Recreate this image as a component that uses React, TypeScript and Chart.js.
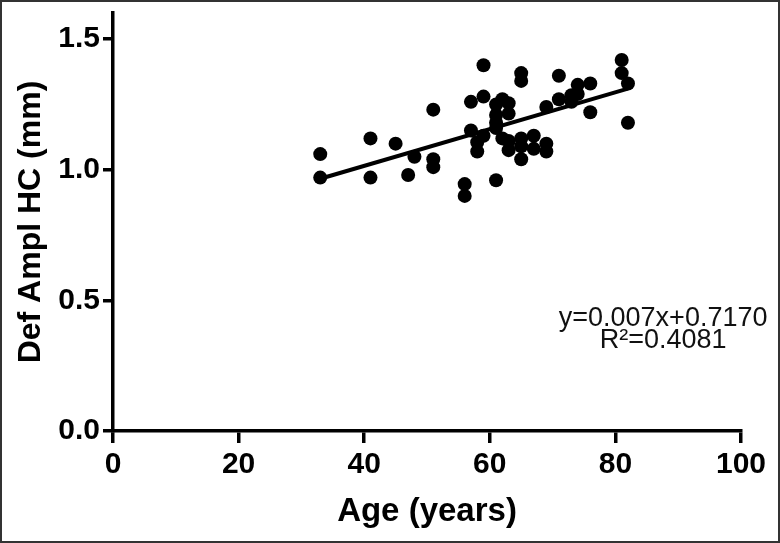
import React, { useEffect, useRef } from "react";
import { Chart, registerables } from "chart.js";

Chart.register(...registerables);

const ageYears = [33, 33, 41, 41, 45, 47, 48, 51, 51, 51, 56, 56, 57, 57, 58, 58, 59, 59, 59, 61, 61, 61, 61, 61, 62, 62, 63, 63, 63, 63, 65, 65, 65, 65, 65, 67, 67, 69, 69, 69, 71, 71, 73, 73, 74, 74, 76, 76, 81, 81, 82, 82];
const defAmplHC = [1.06, 0.97, 1.12, 0.97, 1.10, 0.98, 1.05, 1.23, 1.04, 1.01, 0.945, 0.90, 1.26, 1.15, 1.105, 1.07, 1.40, 1.28, 1.13, 1.25, 1.21, 1.18, 1.16, 0.96, 1.27, 1.12, 1.255, 1.215, 1.11, 1.075, 1.37, 1.34, 1.12, 1.09, 1.04, 1.13, 1.08, 1.24, 1.10, 1.07, 1.36, 1.27, 1.285, 1.26, 1.325, 1.29, 1.33, 1.22, 1.42, 1.37, 1.33, 1.18];
const xTicks = [0, 20, 40, 60, 80, 100];
const yTicks = [0, 0.5, 1.0, 1.5];
const equationLines = ["y=0.007x+0.7170", "R\u00B2=0.4081"];
const xTitle = "Age (years)";
const yTitle = "Def Ampl HC (mm)";

const FONT = "'Liberation Sans', Arial, Helvetica, sans-serif";

function fitLine(xs: number[], ys: number[]) {
  const n = xs.length;
  const mx = xs.reduce((a, b) => a + b, 0) / n;
  const my = ys.reduce((a, b) => a + b, 0) / n;
  let sxy = 0;
  let sxx = 0;
  for (let i = 0; i < n; i++) {
    sxy += (xs[i] - mx) * (ys[i] - my);
    sxx += (xs[i] - mx) * (xs[i] - mx);
  }
  const slope = sxy / sxx;
  return { slope, intercept: my - slope * mx };
}

export default function App() {
  const ref = useRef<HTMLCanvasElement | null>(null);

  useEffect(() => {
    document.body.style.margin = "0";
    const canvas = ref.current;
    if (!canvas) return;
    const points = ageYears.map((x, i) => ({ x, y: defAmplHC[i] }));
    const { slope, intercept } = fitLine(ageYears, defAmplHC);
    const minX = Math.min(...ageYears);
    const maxX = Math.max(...ageYears);
    const linePts = [
      { x: minX, y: slope * minX + intercept },
      { x: maxX, y: slope * maxX + intercept },
    ];

    const framePlugin = {
      id: "frame",
      beforeDraw(chart: any) {
        const c = chart.ctx;
        c.save();
        c.fillStyle = "#fff";
        c.fillRect(0, 0, chart.width, chart.height);
        c.restore();
      },
      afterDraw(chart: any) {
        const c = chart.ctx;
        c.save();
        c.strokeStyle = "#333";
        c.lineWidth = 2;
        c.strokeRect(1, 1, chart.width - 2, chart.height - 2);
        c.fillStyle = "#111";
        c.font = `27px ${FONT}`;
        c.textAlign = "center";
        c.textBaseline = "middle";
        const xs = chart.scales.x;
        const ys = chart.scales.y;
        const cx = xs.getPixelForValue(87.6);
        const cy = ys.getPixelForValue(0.43);
        c.fillText(equationLines[0], cx, cy);
        c.fillText(equationLines[1], cx, cy + 22);
        c.restore();
      },
    };

    const chart = new Chart(canvas, {
      type: "scatter",
      data: {
        datasets: [
          {
            type: "line",
            data: linePts,
            borderColor: "#000",
            borderWidth: 4,
            pointRadius: 0,
            fill: false,
          } as any,
          {
            data: points,
            backgroundColor: "#000",
            borderWidth: 0,
            pointRadius: 7,
            pointHoverRadius: 7,
          },
        ],
      },
      options: {
        animation: false,
        responsive: false,
        devicePixelRatio: 1,
        layout: { padding: { top: 13, right: 39, left: 0, bottom: 0 } },
        plugins: { legend: { display: false }, tooltip: { enabled: false } },
        scales: {
          x: {
            type: "linear",
            min: 0,
            max: 100,
            afterBuildTicks: (s: any) => {
              s.ticks = xTicks.map((v) => ({ value: v }));
            },
            afterFit: (s: any) => {
              s.height = 112;
              s.paddingLeft = 0;
              s.paddingRight = 0;
            },
            grid: {
              display: true,
              drawOnChartArea: false,
              drawTicks: true,
              tickLength: 12,
              color: "#000",
              lineWidth: 3.5,
            },
            border: { display: true, color: "#000", width: 3.5 },
            ticks: {
              color: "#000",
              font: { family: FONT, size: 30, weight: "bold" },
              padding: 4,
              maxRotation: 0,
              autoSkip: false,
            },
            title: {
              display: true,
              text: xTitle,
              color: "#000",
              font: { family: FONT, size: 33, weight: "bold" },
              padding: { top: 0, bottom: 11 },
            },
          },
          y: {
            type: "linear",
            min: 0,
            max: 1.6,
            afterBuildTicks: (s: any) => {
              s.ticks = yTicks.map((v) => ({ value: v }));
            },
            afterFit: (s: any) => {
              s.width = 113;
              s.paddingTop = 0;
              s.paddingBottom = 0;
            },
            grid: {
              display: true,
              drawOnChartArea: false,
              drawTicks: true,
              tickLength: 10,
              color: "#000",
              lineWidth: 3.5,
            },
            border: { display: true, color: "#000", width: 3.5 },
            ticks: {
              color: "#000",
              font: { family: FONT, size: 30, weight: "bold" },
              padding: 3,
              callback: (v: any) => Number(v).toFixed(1),
            },
            title: {
              display: true,
              text: yTitle,
              color: "#000",
              font: { family: FONT, size: 32, weight: "bold" },
              padding: { top: 12, bottom: 0 },
            },
          },
        },
      },
      plugins: [framePlugin],
    });
    return () => chart.destroy();
  }, []);

  return (
    <div style={{ width: 780, height: 543, position: "relative" }}>
      <canvas ref={ref} width={780} height={543} style={{ display: "block" }} />
    </div>
  );
}
